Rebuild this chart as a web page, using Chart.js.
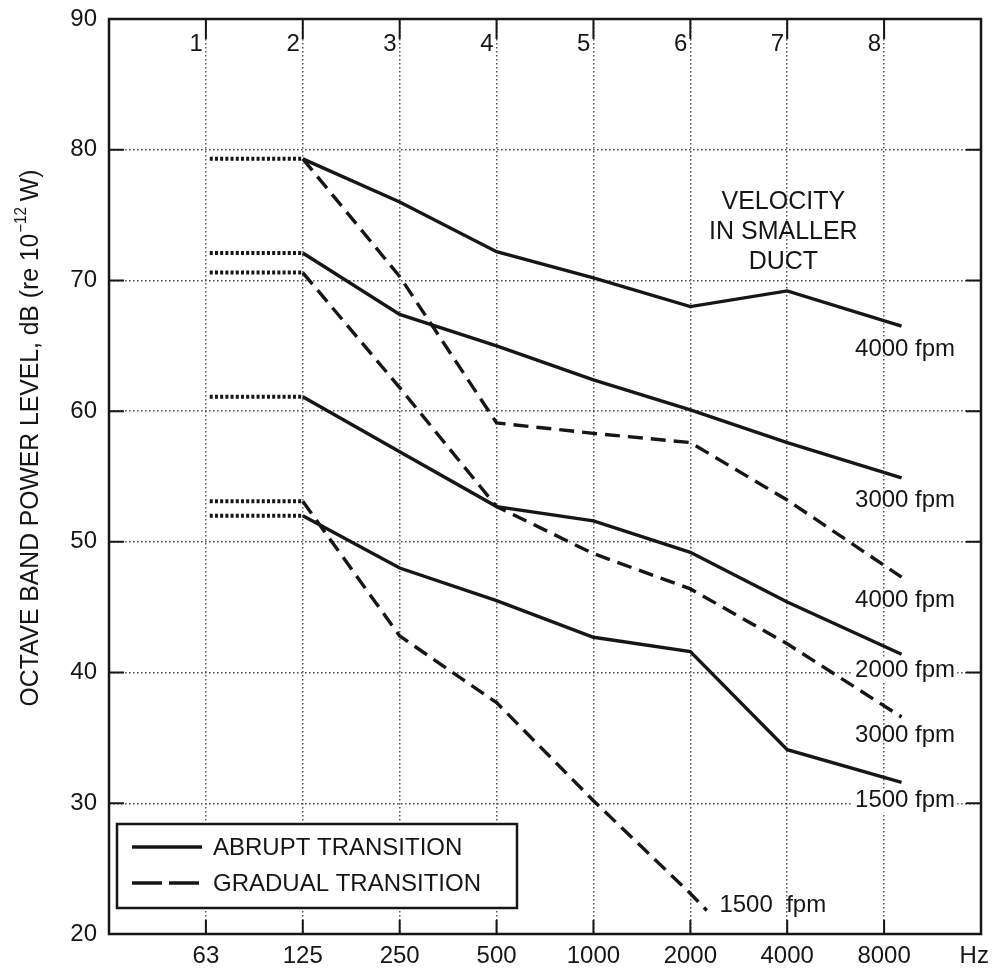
<!DOCTYPE html>
<html>
<head>
<meta charset="utf-8">
<script src="https://cdn.jsdelivr.net/npm/chart.js@4.4.0/dist/chart.umd.min.js"></script>
<style>
  body { margin: 0; background: #fff; }
  #wrap { width: 998px; height: 976px; }
</style>
</head>
<body>
<div id="wrap"><canvas id="chart" width="998" height="976"></canvas></div>
<script>
// octave band positions (1..8) and their centre frequencies
const bandNumbers = ["1", "2", "3", "4", "5", "6", "7", "8"];
const freqLabels = ["63", "125", "250", "500", "1000", "2000", "4000", "8000"];
const hzTick = 8.93;

// x positions of the curve points (band index)
const xFull = [2, 3, 4, 5, 6, 7, 8.18];
const xShort = [2, 3, 4, 5, 6, 6.17];

// abrupt transition (solid)
const abrupt4000 = [79.3, 76.0, 72.2, 70.2, 68.0, 69.2, 66.5];
const abrupt3000 = [72.1, 67.4, 65.0, 62.4, 60.1, 57.6, 54.9];
const abrupt2000 = [61.1, 56.9, 52.7, 51.6, 49.2, 45.4, 41.4];
const abrupt1500 = [52.0, 48.0, 45.5, 42.7, 41.6, 34.1, 31.6];

// gradual transition (dashed)
const gradual4000 = [79.3, 70.3, 59.1, 58.3, 57.6, 53.2, 47.3];
const gradual3000 = [70.6, 61.8, 52.7, 49.1, 46.4, 42.2, 36.6];
const gradual1500 = [53.1, 42.8, 37.7, 30.2, 23.1, 21.8];

// dotted extension levels into the 63 Hz band
const extensionLevels = [79.3, 72.1, 70.6, 61.1, 53.1, 52.0];
const extensionX = [1.04, 2];

// curve labels: text, x value (left edge), y value, white backing
const curveLabels = [
  ["4000 fpm", 7.70, 64.7, false],
  ["3000 fpm", 7.70, 53.2, false],
  ["4000 fpm", 7.70, 45.55, false],
  ["2000 fpm", 7.70, 40.2, true],
  ["3000 fpm", 7.70, 35.2, false],
  ["1500 fpm", 7.70, 30.2, true],
  ["1500  fpm", 6.30, 22.2, false]
];
const noteLines = ["VELOCITY", "IN SMALLER", "DUCT"];
const legendItems = ["ABRUPT TRANSITION", "GRADUAL TRANSITION"];

const INK = '#161616';
const GRID = '#555';
const FONT = '"Liberation Sans", Arial, sans-serif';
const DASH = [15, 8];

function pts(xs, ys) {
  return ys.map((y, i) => ({ x: xs[i], y: y }));
}

function line(data, dashed) {
  return {
    data: data,
    borderColor: INK,
    borderWidth: 3.4,
    borderDash: dashed ? DASH : [],
    pointRadius: 0,
    tension: 0,
    fill: false
  };
}

const datasets = [
  line(pts(xFull, abrupt4000), false),
  line(pts(xFull, abrupt3000), false),
  line(pts(xFull, abrupt2000), false),
  line(pts(xFull, abrupt1500), false),
  line(pts(xFull, gradual4000), true),
  line(pts(xFull, gradual3000), true),
  line(pts(xShort, gradual1500), true)
];
extensionLevels.forEach(v => {
  datasets.push({
    data: extensionX.map(x => ({ x: x, y: v })),
    borderColor: INK,
    borderWidth: 4,
    borderDash: [3, 2.2],
    pointRadius: 0,
    tension: 0
  });
});

const decorations = {
  id: 'decorations',
  afterDraw(chart) {
    const ctx = chart.ctx;
    const xs = chart.scales.x, ys = chart.scales.y;
    const a = chart.chartArea;
    ctx.save();

    // inward tick marks
    ctx.strokeStyle = INK;
    ctx.lineWidth = 2;
    ctx.beginPath();
    for (let i = 1; i <= 8; i++) {
      const px = xs.getPixelForValue(i);
      ctx.moveTo(px, a.bottom); ctx.lineTo(px, a.bottom - 14);
      ctx.moveTo(px, a.top); ctx.lineTo(px, a.top + 20);
    }
    for (let v = 30; v <= 80; v += 10) {
      const py = ys.getPixelForValue(v);
      ctx.moveTo(a.left, py); ctx.lineTo(a.left + 15, py);
      ctx.moveTo(a.right, py); ctx.lineTo(a.right - 15, py);
    }
    ctx.stroke();

    // frame
    ctx.lineWidth = 2.5;
    ctx.strokeRect(a.left, a.top, a.right - a.left, a.bottom - a.top);

    // band numbers along the top
    ctx.fillStyle = INK;
    ctx.font = '24px ' + FONT;
    ctx.textAlign = 'right';
    ctx.textBaseline = 'middle';
    bandNumbers.forEach((t, i) => {
      ctx.fillText(t, xs.getPixelForValue(i + 1) - 3, a.top + 25);
    });

    // curve labels
    ctx.textAlign = 'left';
    curveLabels.forEach(([t, x, y, bg]) => {
      const px = xs.getPixelForValue(x), py = ys.getPixelForValue(y);
      if (bg) {
        const w = ctx.measureText(t).width;
        ctx.fillStyle = '#fff';
        ctx.fillRect(px - 2, py - 12, w + 4, 24);
      }
      ctx.fillStyle = INK;
      ctx.fillText(t, px, py);
    });

    // note block
    ctx.textAlign = 'center';
    ctx.font = '25px ' + FONT;
    const nx = xs.getPixelForValue(6.96);
    noteLines.forEach((t, i) => {
      ctx.fillText(t, nx, ys.getPixelForValue(76.0) + i * 30);
    });

    // legend box
    const lx = 117, ly = 824, lw = 400, lh = 84;
    ctx.fillStyle = '#fff';
    ctx.fillRect(lx, ly, lw, lh);
    ctx.strokeStyle = INK;
    ctx.lineWidth = 2.5;
    ctx.strokeRect(lx, ly, lw, lh);
    ctx.lineWidth = 3.4;
    legendItems.forEach((t, i) => {
      const y = ly + 23 + i * 36;
      ctx.setLineDash(i === 0 ? [] : [30, 7]);
      ctx.beginPath();
      ctx.moveTo(lx + 15, y); ctx.lineTo(lx + 85, y);
      ctx.stroke();
      ctx.setLineDash([]);
      ctx.fillStyle = INK;
      ctx.textAlign = 'left';
      ctx.font = '24px ' + FONT;
      ctx.fillText(t, lx + 96, y + 1);
    });

    // y axis title with superscript
    ctx.translate(31, 438);
    ctx.rotate(-Math.PI / 2);
    ctx.scale(0.95, 1);
    ctx.fillStyle = INK;
    ctx.textBaseline = 'middle';
    const p1 = 'OCTAVE BAND POWER LEVEL, dB (re 10';
    const p2 = '\u221212';
    const p3 = ' W)';
    ctx.font = '26px ' + FONT;
    const w1 = ctx.measureText(p1).width, w3 = ctx.measureText(p3).width;
    ctx.font = '16px ' + FONT;
    const w2 = ctx.measureText(p2).width;
    let sx = -(w1 + w2 + w3) / 2;
    ctx.textAlign = 'left';
    ctx.font = '26px ' + FONT;
    ctx.fillText(p1, sx, 0);
    ctx.font = '16px ' + FONT;
    ctx.fillText(p2, sx + w1 + 1, -9);
    ctx.font = '26px ' + FONT;
    ctx.fillText(p3, sx + w1 + w2, 0);

    ctx.restore();
  }
};

new Chart(document.getElementById('chart'), {
  type: 'line',
  data: { datasets: datasets },
  options: {
    responsive: false,
    animation: false,
    layout: { padding: { top: 19, right: 17, left: 0, bottom: 0 } },
    plugins: { legend: { display: false }, tooltip: { enabled: false } },
    scales: {
      x: {
        type: 'linear',
        min: 0,
        max: 9,
        afterBuildTicks: s => {
          s.ticks = [1, 2, 3, 4, 5, 6, 7, 8, hzTick].map(v => ({ value: v }));
        },
        afterFit: s => {
          s.height = 42;
          s.paddingLeft = 0;
          s.paddingRight = 0;
        },
        border: { display: false, dash: [1.6, 2.4] },
        grid: {
          drawTicks: false,
          color: c => (c.tick && c.tick.value === hzTick) ? 'rgba(0,0,0,0)' : GRID,
          lineWidth: 1.5
        },
        ticks: {
          autoSkip: false,
          maxRotation: 0,
          padding: 8,
          color: INK,
          font: { family: FONT, size: 24 },
          callback: v => v === hzTick ? 'Hz' : freqLabels[v - 1]
        }
      },
      y: {
        min: 20,
        max: 90,
        afterFit: s => {
          s.width = 109;
          s.paddingTop = 0;
          s.paddingBottom = 0;
        },
        border: { display: false, dash: [1.6, 2.4] },
        grid: { drawTicks: false, color: GRID, lineWidth: 1.5 },
        ticks: {
          stepSize: 10,
          padding: 12,
          color: INK,
          font: { family: FONT, size: 24 }
        }
      }
    }
  },
  plugins: [decorations]
});
</script>
</body>
</html>
